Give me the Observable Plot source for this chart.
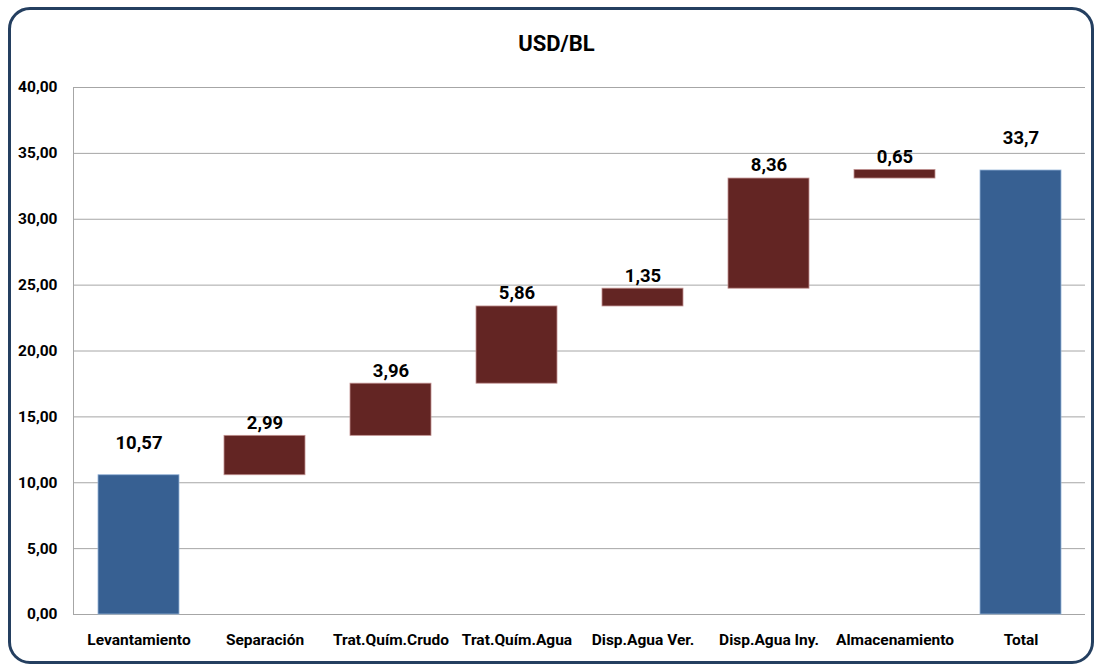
<!DOCTYPE html>
<html>
<head>
<meta charset="utf-8">
<script src="https://cdn.jsdelivr.net/npm/d3@7"></script>
<script src="https://cdn.jsdelivr.net/npm/@observablehq/plot@0.6"></script>
<style>
  html, body { margin: 0; padding: 0; background: #fff; }
  #wrap { position: relative; width: 1095px; height: 667px; overflow: hidden;
    font-family: Roboto, "DejaVu Sans", sans-serif; font-weight: bold; }
  #frame { position: absolute; left: 8px; top: 7px; width: 1080px; height: 651px;
    border: 3px solid #243f60; border-radius: 22px; box-sizing: content-box; }
  #title { position: relative; height: 60px; box-sizing: border-box; padding-top: 32px; padding-left: 18px;
    text-align: center; font-size: 22px; line-height: 24px; color: #000; }
  #chart { position: relative; }
</style>
</head>
<body>
<div id="wrap">
  <div id="frame"></div>
  <div id="title">USD/BL</div>
  <div id="chart"></div>
</div>
<script>
const categories = ["Levantamiento", "Separación", "Trat.Quím.Crudo", "Trat.Quím.Agua",
  "Disp.Agua Ver.", "Disp.Agua Iny.", "Almacenamiento", "Total"];
const values = [10.57, 2.99, 3.96, 5.86, 1.35, 8.36, 0.65, 33.7];
const valueLabels = ["10,57", "2,99", "3,96", "5,86", "1,35", "8,36", "0,65", "33,7"];
const kinds = ["base", "step", "step", "step", "step", "step", "step", "total"];
const yTicks = [0, 5, 10, 15, 20, 25, 30, 35, 40];
const yTickLabels = ["0,00", "5,00", "10,00", "15,00", "20,00", "25,00", "30,00", "35,00", "40,00"];

let run = 0;
const rows = categories.map((c, i) => {
  let y1, y2;
  if (kinds[i] === "total") { y1 = 0; y2 = values[i]; }
  else { y1 = run; y2 = run + values[i]; run = y2; }
  return { cat: c, y1, y2, label: valueLabels[i], kind: kinds[i] };
});
const blue = rows.filter(d => d.kind !== "step");
const steps = rows.filter(d => d.kind === "step");

const fontFam = 'Roboto, "DejaVu Sans", sans-serif';

const chart = Plot.plot({
  width: 1095,
  height: 607,
  marginLeft: 73,
  marginRight: 10,
  marginTop: 27,
  marginBottom: 53,
  style: { fontFamily: fontFam, fontWeight: "bold", color: "#000", background: "transparent", overflow: "visible" },
  x: { domain: categories, paddingInner: 0.36, paddingOuter: 0.18, label: null },
  y: { domain: [0, 40], label: null },
  marks: [
    Plot.ruleY(yTicks, { stroke: "#a6a6a6", strokeWidth: 1, strokeOpacity: 1 }),
    Plot.frame({ anchor: "left", stroke: "#a6a6a6", strokeOpacity: 1 }),
    Plot.axisY({ ticks: yTicks, tickFormat: d => yTickLabels[yTicks.indexOf(d)], tickSize: 0, tickPadding: 16,
      fontSize: 15.5, label: null }),
    Plot.axisX({ tickSize: 0, tickPadding: 19, fontSize: 15.5, label: null }),
    Plot.barY(blue, { x: "cat", y1: "y1", y2: "y2", fill: "#376092", stroke: "#95b3d7", strokeWidth: 0.8 }),
    Plot.barY(steps, { x: "cat", y1: "y1", y2: "y2", fill: "#632523", stroke: "#c0908f", strokeWidth: 0.8 }),
    Plot.text(blue, { x: "cat", y: "y2", text: "label", dy: -32, fontSize: 18.5, fill: "#000" }),
    Plot.text(steps, { x: "cat", y: "y2", text: "label", dy: -13, fontSize: 18.5, fill: "#000" })
  ]
});
document.getElementById("chart").appendChild(chart);
</script>
</body>
</html>
